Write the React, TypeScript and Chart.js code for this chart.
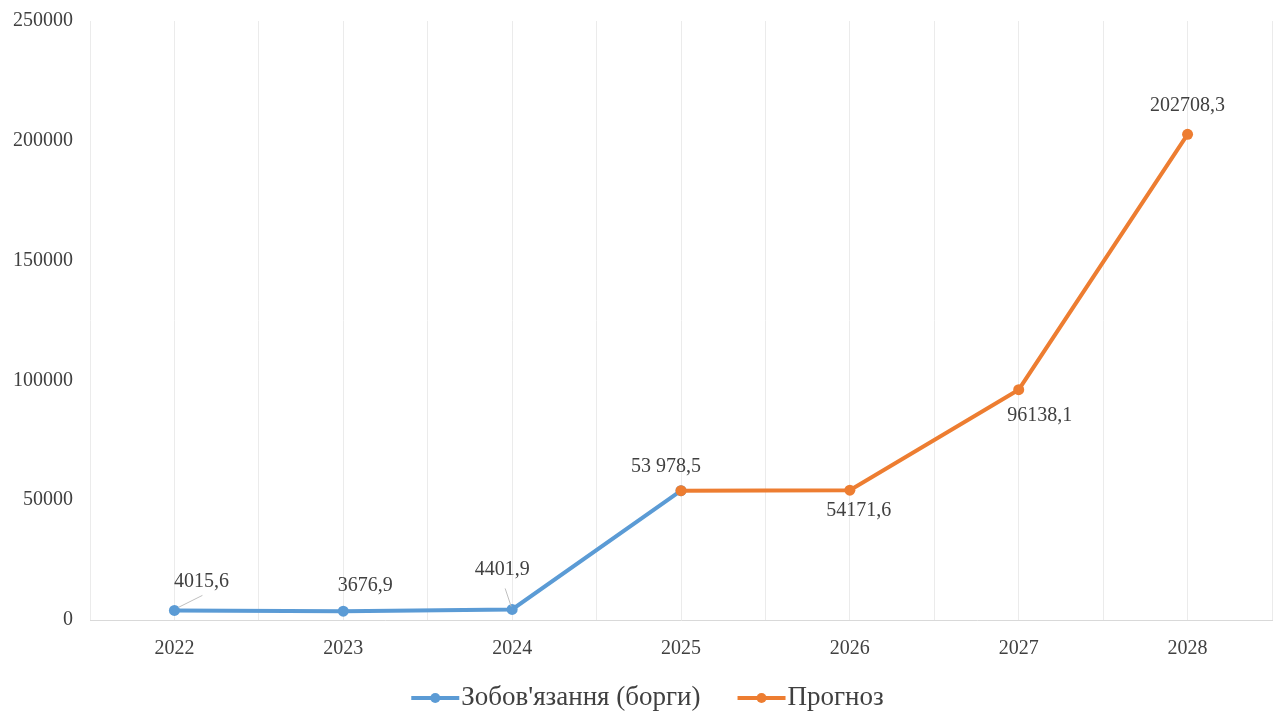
import { useEffect, useRef } from 'react';
import { Chart, registerables } from 'chart.js';

Chart.register(...registerables);

// ---- data ----
const years = ['2022', '2023', '2024', '2025', '2026', '2027', '2028'];
const debtYears = ['2022', '2023', '2024', '2025'];
const debtValues = [4015.6, 3676.9, 4401.9, 53978.5];
const debtLabels = ['4015,6', '3676,9', '4401,9', ''];
const forecastYears = ['2025', '2026', '2027', '2028'];
const forecastValues = [53978.5, 54171.6, 96138.1, 202708.3];
const forecastLabels = ['53 978,5', '54171,6', '96138,1', '202708,3'];
const seriesNames = ["Зобов'язання (борги)", 'Прогноз'];
const yMin = 0;
const yMax = 250000;
const yStep = 50000;

// ---- styles ----
const BLUE = '#5B9BD5';
const ORANGE = '#ED7D31';
const TEXT = '#404040';
const FONT = "'Liberation Serif', 'Times New Roman', serif";
const SHIFT_Y = 8; // canvas is shifted up by this many px inside a clipping box

// label offsets relative to the point (px)
const debtOffsets: ([number, number] | null)[] = [[27, -29], [22, -25], [-10, -40], null];
const forecastOffsets: ([number, number] | null)[] = [[-15, -24], [9, 21], [21, 26], [0, -29]];
// leader lines: [x1,y1,x2,y2] relative to point
const debtLeaders: ([number, number, number, number] | null)[] = [[4, -3, 28, -15], null, [-7, -21, -1, -3], null];

const labelPlugin = {
  id: 'pointLabels',
  afterDatasetsDraw(chart: any) {
    const ctx = chart.ctx;
    ctx.save();
    ctx.font = `20px ${FONT}`;
    ctx.fillStyle = TEXT;
    ctx.textAlign = 'center';
    ctx.textBaseline = 'middle';
    const sets = [
      { meta: chart.getDatasetMeta(0), labels: debtLabels, offsets: debtOffsets, leaders: debtLeaders },
      { meta: chart.getDatasetMeta(1), labels: forecastLabels, offsets: forecastOffsets, leaders: [] as any[] },
    ];
    sets.forEach(({ meta, labels, offsets, leaders }) => {
      meta.data.forEach((pt: any, i: number) => {
        const ld = leaders[i];
        if (ld) {
          ctx.strokeStyle = '#bfbfbf';
          ctx.lineWidth = 1;
          ctx.beginPath();
          ctx.moveTo(pt.x + ld[0], pt.y + ld[1]);
          ctx.lineTo(pt.x + ld[2], pt.y + ld[3]);
          ctx.stroke();
        }
        const off = offsets[i];
        if (!off || !labels[i]) return;
        ctx.fillText(labels[i], pt.x + off[0], pt.y + off[1]);
      });
    });
    ctx.restore();
  },
};

const legendPlugin = {
  id: 'customLegend',
  afterDraw(chart: any) {
    const ctx = chart.ctx;
    ctx.save();
    ctx.font = `27px ${FONT}`;
    const lineLen = 48;
    const gap = 2;
    const itemGap = 37;
    const colors = [BLUE, ORANGE];
    const widths = seriesNames.map((n) => lineLen + gap + ctx.measureText(n).width);
    const total = widths.reduce((a, b) => a + b, 0) + itemGap * (widths.length - 1);
    let x = 647.5 - total / 2;
    const y = 698 + SHIFT_Y;
    seriesNames.forEach((name, i) => {
      ctx.strokeStyle = colors[i];
      ctx.lineWidth = 4;
      ctx.beginPath();
      ctx.moveTo(x, y);
      ctx.lineTo(x + lineLen, y);
      ctx.stroke();
      ctx.fillStyle = colors[i];
      ctx.beginPath();
      ctx.arc(x + lineLen / 2, y, 5, 0, Math.PI * 2);
      ctx.fill();
      ctx.fillStyle = TEXT;
      ctx.textAlign = 'left';
      ctx.textBaseline = 'middle';
      ctx.fillText(name, x + lineLen + gap, y);
      x += widths[i] + itemGap;
    });
    ctx.restore();
  },
};

export default function App() {
  const ref = useRef<HTMLCanvasElement | null>(null);
  useEffect(() => {
    if (!ref.current) return;
    const chart = new Chart(ref.current, {
      type: 'line',
      data: {
        datasets: [
          {
            label: seriesNames[0],
            data: debtValues.map((v, i) => ({ x: years.indexOf(debtYears[i]), y: v })),
            borderColor: BLUE,
            backgroundColor: BLUE,
            borderWidth: 4,
            pointRadius: 5.5,
            pointBorderWidth: 0,
            pointBackgroundColor: BLUE,
            order: 2,
          },
          {
            label: seriesNames[1],
            data: forecastValues.map((v, i) => ({ x: years.indexOf(forecastYears[i]), y: v })),
            borderColor: ORANGE,
            backgroundColor: ORANGE,
            borderWidth: 4,
            pointRadius: 5.5,
            pointBorderWidth: 0,
            pointBackgroundColor: ORANGE,
            order: 1,
          },
        ],
      },
      options: {
        animation: false,
        responsive: true,
        maintainAspectRatio: false,
        layout: { padding: { top: 12, right: 0, bottom: 37, left: 0 } },
        plugins: {
          legend: { display: false },
          tooltip: { enabled: false },
        },
        scales: {
          x: {
            type: 'linear',
            min: -0.5,
            max: years.length - 0.5,
            grid: { color: '#ebebeb', lineWidth: 1, drawTicks: false },
            border: { display: true, color: '#d9d9d9', width: 1 },
            ticks: {
              stepSize: 0.5,
              autoSkip: false,
              maxRotation: 0,
              padding: 17,
              color: TEXT,
              font: { family: FONT, size: 20 },
              callback: (v: any) => (Number.isInteger(v) ? years[v] : ''),
            },
          },
          y: {
            min: yMin,
            max: yMax,
            grid: { display: false, drawTicks: false },
            border: { display: false },
            afterFit: (scale: any) => {
              scale.width = 90;
            },
            ticks: {
              stepSize: yStep,
              padding: 17,
              color: TEXT,
              font: { family: FONT, size: 20 },
              callback: (v: any) => String(v),
            },
          },
        },
      },
      plugins: [labelPlugin, legendPlugin],
    });
    return () => chart.destroy();
  }, []);
  return (
    <div style={{ position: 'absolute', left: 0, top: 0, width: 1279, height: 715, overflow: 'hidden' }}>
      <div style={{ position: 'absolute', left: 0, top: -SHIFT_Y, width: 1289, height: 715 + SHIFT_Y }}>
        <canvas ref={ref} />
      </div>
    </div>
  );
}
